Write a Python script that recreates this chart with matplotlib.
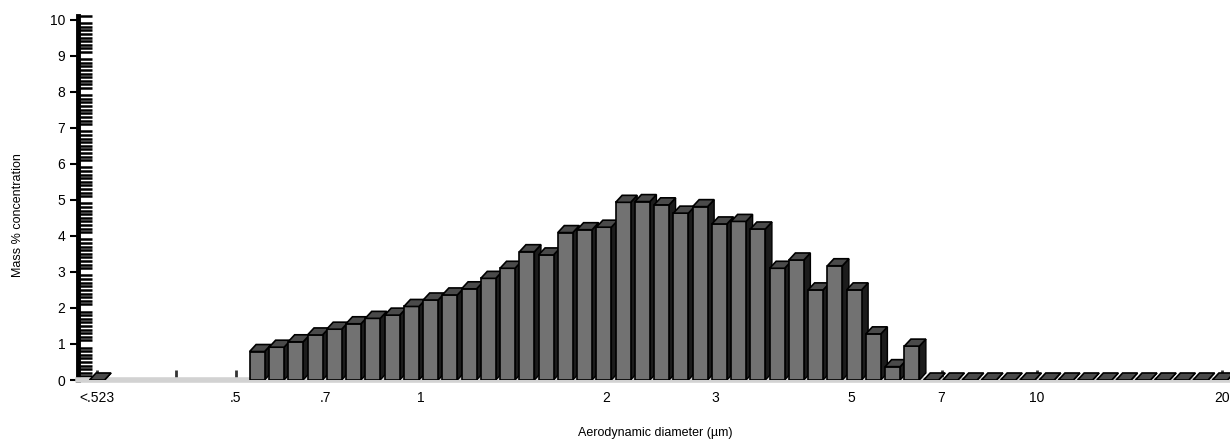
import matplotlib
matplotlib.use('Agg')
import matplotlib.pyplot as plt
from matplotlib.ticker import MultipleLocator, FixedLocator, NullFormatter

plt.rcParams['font.family'] = ['Liberation Sans', 'DejaVu Sans']

# APS channel midpoints (um) and mass % per channel
diam = [0.542, 0.583, 0.626, 0.673, 0.723, 0.777, 0.835, 0.898, 0.965, 1.037,
        1.114, 1.197, 1.286, 1.382, 1.486, 1.596, 1.715, 1.843, 1.981, 2.129,
        2.288, 2.458, 2.642, 2.839, 3.051, 3.278, 3.523, 3.786, 4.068, 4.371,
        4.698, 5.048, 5.425, 5.829, 6.264, 6.732, 7.234, 7.774, 8.354, 8.977,
        9.647, 10.37, 11.14, 11.97, 12.86, 13.82, 14.86, 15.96, 17.15, 18.43,
        19.81]
mass = [0.79, 0.91, 1.06, 1.25, 1.41, 1.56, 1.71, 1.80, 2.04, 2.22,
        2.36, 2.53, 2.82, 3.10, 3.56, 3.47, 4.09, 4.17, 4.24, 4.93,
        4.95, 4.86, 4.63, 4.81, 4.33, 4.40, 4.19, 3.10, 3.33, 2.50,
        3.17, 2.50, 1.28, 0.37, 0.94, 0, 0, 0, 0, 0,
        0, 0, 0, 0, 0, 0, 0, 0, 0, 0, 0]
# channel below .523 um, drawn at its own spot at the left
low_pos = 0.298
low_mass = 0.0

tick_pos = [low_pos, 0.4, 0.5, 0.7, 1, 2, 3, 5, 7, 10, 20]
tick_lab = ['<.523', '', '.5', '.7', '1', '2', '3', '5', '7', '10', '20']

W, H = 1230, 443
fig = plt.figure(figsize=(W / 100, H / 100), dpi=100)
ax = fig.add_axes([78 / W, 63 / H, 1152 / W, 364 / H])
ax.set_xscale('log')
ax.set_xlim(0.2775, 20.57)
ax.set_ylim(0, 10.1)

# bar geometry (decades / value units)
hw = 7.5 / 616
dxf = 10 ** (6.5 / 616)
dy = 7 / 36


def bar3d(c, v):
    xl, xr = c / 10 ** hw, c * 10 ** hw
    side = [(xr, 0), (xr * dxf, dy), (xr * dxf, v + dy), (xr, v)]
    top = [(xl, v), (xr, v), (xr * dxf, v + dy), (xl * dxf, v + dy)]
    front = [(xl, 0), (xr, 0), (xr, v), (xl, v)]
    ax.fill(*zip(*side), facecolor='#1c1c1c', edgecolor='black', lw=1, zorder=3)
    if v > 0:
        ax.fill(*zip(*front), facecolor='#727272', edgecolor='black', lw=1.2, zorder=3)
    ax.fill(*zip(*top), facecolor='#4a4a4a', edgecolor='black', lw=1.2, zorder=3)


bar3d(low_pos, low_mass)
for c, v in zip(diam, mass):
    bar3d(c, v)

for s in ['top', 'right']:
    ax.spines[s].set_visible(False)
ax.spines['left'].set_linewidth(3.5)
ax.spines['bottom'].set_color('#d2d2d2')
ax.spines['bottom'].set_linewidth(4)
ax.set_axisbelow(True)

ax.xaxis.set_major_locator(FixedLocator(tick_pos))
ax.set_xticklabels(tick_lab)
ax.xaxis.set_minor_formatter(NullFormatter())
ax.xaxis.set_minor_locator(FixedLocator([]))
ax.tick_params(axis='x', direction='in', length=7, width=2, color='#333333',
               labelsize=10, pad=8)

ax.yaxis.set_major_locator(MultipleLocator(1))
ax.yaxis.set_minor_locator(MultipleLocator(0.1))
ax.tick_params(axis='y', which='major', direction='out', length=6, width=1.5,
               labelsize=10, pad=3)
ax.tick_params(axis='y', which='minor', direction='in', length=10, width=1.8)

fig.text(18 / W, 1 - 215 / H, 'Mass % concentration', rotation=90,
         ha='center', va='center', fontsize=9)
fig.text(655 / W, 1 - 433 / H, 'Aerodynamic diameter (\u00b5m)',
         ha='center', va='center', fontsize=9)

fig.savefig('out.png', dpi=100)
